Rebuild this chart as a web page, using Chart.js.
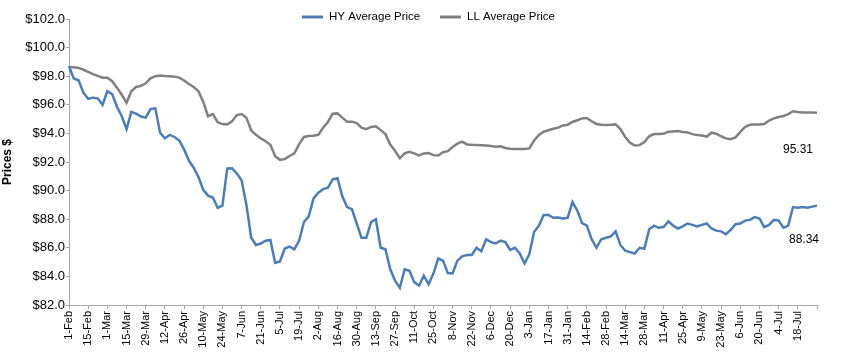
<!DOCTYPE html>
<html>
<head>
<meta charset="utf-8">
<script src="https://cdn.jsdelivr.net/npm/chart.js@4.4.1/dist/chart.umd.min.js"></script>
<style>
  html, body { margin: 0; padding: 0; background: #ffffff; }
  #wrap { width: 852px; height: 355px; position: relative; }
</style>
</head>
<body>
<div id="wrap"><canvas id="c" width="852" height="355"></canvas></div>
<script>
// Tick labels on the date axis (one every 14 days)
const tickLabels = ['1-Feb','15-Feb','1-Mar','15-Mar','29-Mar','12-Apr','26-Apr','10-May','24-May','7-Jun','21-Jun','5-Jul','19-Jul','2-Aug','16-Aug','30-Aug','13-Sep','27-Sep','11-Oct','25-Oct','8-Nov','22-Nov','6-Dec','20-Dec','3-Jan','17-Jan','31-Jan','14-Feb','28-Feb','14-Mar','28-Mar','11-Apr','25-Apr','9-May','23-May','6-Jun','20-Jun','4-Jul','18-Jul'];
const pointsPerTick = 4; // one observation every 3.5 days

// HY Average Price
const hyPrice = [
98.7,97.84,97.72,96.85,96.42,96.5,96.45,96.0,96.95,96.75,
95.86,95.2,94.3,95.5,95.38,95.18,95.1,95.7,95.75,94.05,
93.65,93.9,93.75,93.5,92.88,92.1,91.6,90.95,90.05,89.65,
89.52,88.8,88.95,91.55,91.56,91.2,90.72,89.0,86.7,86.2,
86.3,86.5,86.55,84.95,85.05,85.95,86.08,85.9,86.5,87.8,
88.2,89.45,89.85,90.1,90.2,90.78,90.86,89.6,88.85,88.7,
87.7,86.7,86.7,87.8,88.0,86.0,85.9,84.5,83.7,83.2,
84.5,84.4,83.6,83.35,84.05,83.45,84.2,85.25,85.1,84.23,
84.2,85.1,85.4,85.5,85.5,86.0,85.75,86.6,86.4,86.3,
86.5,86.4,85.85,86.0,85.6,84.9,85.55,87.1,87.55,88.3,
88.3,88.1,88.12,88.05,88.1,89.2,88.6,87.72,87.55,86.6,
86.0,86.6,86.7,86.8,87.15,86.2,85.8,85.7,85.6,86.0,
85.93,87.3,87.55,87.4,87.45,87.85,87.55,87.35,87.5,87.7,
87.6,87.5,87.6,87.7,87.35,87.2,87.15,86.95,87.25,87.65,
87.7,87.9,87.95,88.15,88.05,87.45,87.6,87.95,87.9,87.4,
87.55,88.85,88.8,88.85,88.8,88.88,88.95
];

// LL Average Price
const llPrice = [
98.65,98.62,98.58,98.45,98.3,98.15,98.02,97.9,97.9,97.65,
97.2,96.7,96.14,96.95,97.25,97.32,97.5,97.85,98.0,98.05,
98.02,98.0,97.97,97.9,97.7,97.45,97.25,96.95,96.2,95.2,
95.35,94.78,94.65,94.63,94.85,95.28,95.35,95.1,94.2,93.9,
93.65,93.45,93.2,92.4,92.15,92.2,92.42,92.6,93.25,93.75,
93.82,93.84,93.9,94.4,94.8,95.38,95.4,95.1,94.82,94.82,
94.72,94.4,94.3,94.45,94.5,94.23,93.95,93.22,92.78,92.26,
92.6,92.72,92.6,92.46,92.6,92.62,92.48,92.46,92.68,92.76,
93.05,93.28,93.42,93.23,93.2,93.19,93.17,93.15,93.12,93.07,
93.1,92.98,92.93,92.91,92.91,92.91,92.95,93.5,93.9,94.12,
94.22,94.32,94.4,94.56,94.6,94.8,94.92,95.05,95.08,94.85,
94.66,94.6,94.58,94.6,94.63,94.3,93.75,93.35,93.15,93.18,
93.4,93.8,93.95,93.95,93.97,94.12,94.14,94.16,94.1,94.07,
93.95,93.88,93.85,93.78,94.05,93.98,93.8,93.65,93.6,93.72,
94.1,94.45,94.6,94.63,94.63,94.65,94.9,95.05,95.15,95.22,
95.35,95.55,95.5,95.47,95.46,95.46,95.45
];

// Latest-value annotations as printed on the chart
const lastLabels = { hy: '88.34', ll: '95.31' };
const seriesNames = ['HY Average Price', 'LL Average Price'];
const seriesColors = ['#4a7ebb', '#808080'];

const categories = hyPrice.map((_, i) => (i % pointsPerTick === 0 ? (tickLabels[i / pointsPerTick] || '') : ''));

const FONT = "'Liberation Sans', Arial, sans-serif";

const overlay = {
  id: 'overlay',
  afterDraw(chart) {
    const ctx = chart.ctx;
    const xs = chart.scales.x, ys = chart.scales.y;
    ctx.save();
    // legend
    ctx.font = '11.5px ' + FONT;
    ctx.textBaseline = 'middle';
    ctx.fillStyle = '#000';
    const legendY = 17;
    const items = [
      { x: 302, text: seriesNames[0], color: seriesColors[0] },
      { x: 440, text: seriesNames[1], color: seriesColors[1] }
    ];
    items.forEach(it => {
      ctx.strokeStyle = it.color;
      ctx.lineWidth = 3;
      ctx.beginPath();
      ctx.moveTo(it.x, legendY);
      ctx.lineTo(it.x + 21, legendY);
      ctx.stroke();
      ctx.textAlign = 'left';
      ctx.fillText(it.text, it.x + 27, legendY);
    });
    // last value annotations
    const lastX = xs.getPixelForValue(hyPrice.length - 1);
    ctx.font = '12px ' + FONT;
    ctx.textAlign = 'right';
    ctx.fillText(lastLabels.ll, lastX - 4, ys.getPixelForValue(92.88));
    ctx.fillText(lastLabels.hy, lastX + 2, ys.getPixelForValue(86.55));
    ctx.restore();
  }
};

new Chart(document.getElementById('c'), {
  type: 'line',
  data: {
    labels: categories,
    datasets: [
      { label: seriesNames[0], data: hyPrice, borderColor: seriesColors[0], backgroundColor: seriesColors[0], borderWidth: 2.5, pointRadius: 0, tension: 0, fill: false },
      { label: seriesNames[1], data: llPrice, borderColor: seriesColors[1], backgroundColor: seriesColors[1], borderWidth: 2.5, pointRadius: 0, tension: 0, fill: false }
    ]
  },
  options: {
    responsive: false,
    animation: false,
    devicePixelRatio: 1,
    layout: { padding: { top: 19, right: 35, left: 0, bottom: 0 } },
    plugins: { legend: { display: false }, tooltip: { enabled: false } },
    scales: {
      x: {
        type: 'category',
        offset: false,
        grid: {
          drawOnChartArea: false,
          drawTicks: true,
          tickLength: 4,
          tickColor: c => (c.index % pointsPerTick === 0 ? '#a6a6a6' : 'rgba(0,0,0,0)')
        },
        border: { color: '#a6a6a6', width: 1 },
        ticks: {
          autoSkip: false,
          maxRotation: 90,
          minRotation: 90,
          padding: 2,
          color: '#000',
          font: { family: FONT, size: 11 },
          callback: function (v, i) { return categories[i]; }
        },
        afterFit: s => { s.height = 50; }
      },
      y: {
        min: 82,
        max: 102,
        grid: { drawOnChartArea: false, drawTicks: true, tickLength: 3, color: '#a6a6a6' },
        border: { color: '#a6a6a6', width: 1 },
        ticks: {
          stepSize: 2,
          padding: 1,
          color: '#000',
          font: { family: FONT, size: 13 },
          callback: v => '$' + Number(v).toFixed(1)
        },
        title: { display: true, text: 'Prices $', color: '#000', font: { family: FONT, size: 12, weight: 'bold' }, padding: { top: 0, bottom: 2 } },
        afterFit: s => { s.width = 69; }
      }
    }
  },
  plugins: [overlay]
});
</script>
</body>
</html>
